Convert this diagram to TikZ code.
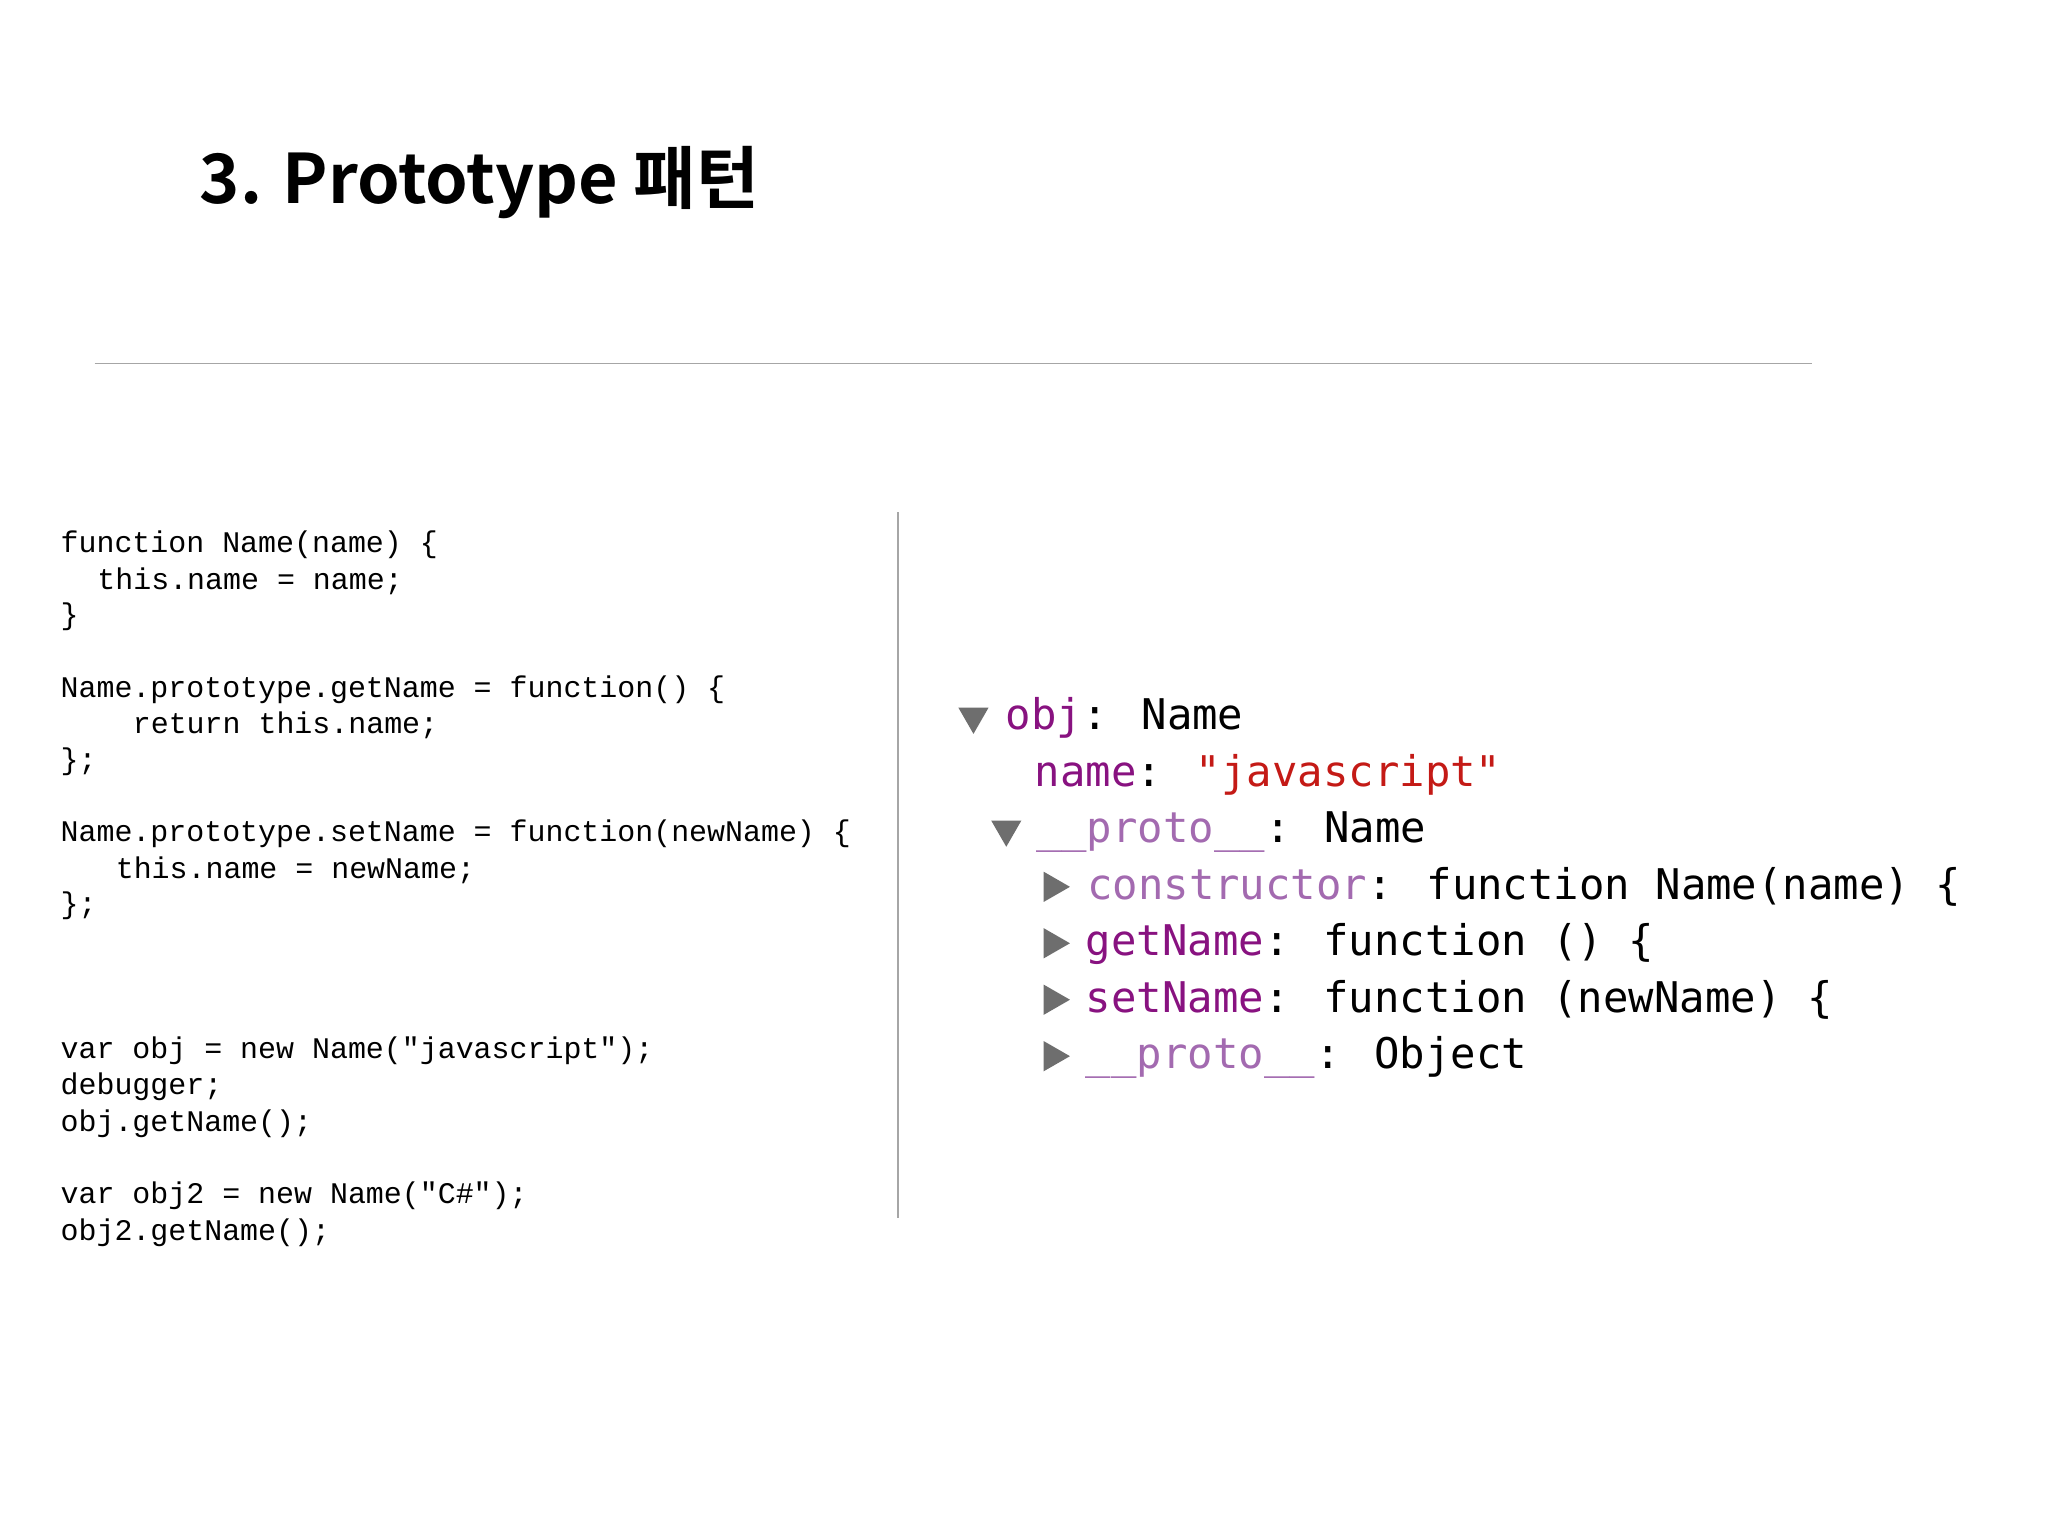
\documentclass[tikz,border=0pt]{standalone}
\usepackage{fontspec}
\newfontfamily\kor{Noto Sans CJK KR Bold}
\newfontfamily\cmono{Liberation Mono}
\newfontfamily\dmono{DejaVu Sans Mono}
\definecolor{pp}{HTML}{881280}
\definecolor{lp}{HTML}{A36AB0}
\definecolor{rd}{HTML}{C41A16}
\definecolor{tri}{HTML}{6E6E6E}
\begin{document}
\begin{tikzpicture}[x=1pt,y=-1pt,
 code/.style={anchor=base west,inner sep=0pt,font=\cmono\fontsize{22.8}{27}\selectfont},
 dev/.style={anchor=base west,inner sep=0pt,font=\dmono\fontsize{32.2}{40}\selectfont},
 dtri/.style={fill=tri},]
\useasboundingbox (0,0) rectangle (1560,1170);
\fill[white] (0,0) rectangle (1560,1170);
\node[anchor=base west,inner sep=0pt,font=\kor\fontsize{52}{60}\selectfont] (title) at (152,155) {3. Prototype 패턴};
\coordinate (h1) at (72,277); \coordinate (h2) at (1380,277);
\draw[gray!70,line width=1.2pt] (h1) -- (h2);
\coordinate (v1) at (684,390); \coordinate (v2) at (684,928);
\draw[gray!70,line width=1.2pt] (v1) -- (v2);
% left code
\node[code] (l1) at (46,421) {function Name(name) \{};
\node[code] (l2) at (74,449) {this.name = name;};
\node[code] (l3) at (46,476) {\}};
\node[code] (l4) at (46,531) {Name.prototype.getName = function() \{};
\node[code] (l5) at (101,559) {return this.name;};
\node[code] (l6) at (46,586) {\};};
\node[code] (l7) at (46,641) {Name.prototype.setName = function(newName) \{};
\node[code] (l8) at (88,669) {this.name = newName;};
\node[code] (l9) at (46,696) {\};};
\node[code] (l10) at (46,806) {var obj = new Name("javascript");};
\node[code] (l11) at (46,834) {debugger;};
\node[code] (l12) at (46,862) {obj.getName();};
\node[code] (l13) at (46,917) {var obj2 = new Name("C\#");};
\node[code] (l14) at (46,945) {obj2.getName();};
% devtools
\fill[dtri] (730,539) -- (753,539) -- (741.5,559) -- cycle;
\node[dev] (d1) at (766,556) {\textcolor{pp}{obj}: Name};
\node[dev] (d2) at (788,599) {\textcolor{pp}{name}: \textcolor{rd}{"javascript"}};
\fill[dtri] (755,625) -- (778,625) -- (766.5,645) -- cycle;
\node[dev] (d3) at (789,642) {\textcolor{lp}{\_\_proto\_\_}: Name};
\fill[dtri] (795,664) -- (815,675.5) -- (795,687) -- cycle;
\node[dev] (d4) at (828,685) {\textcolor{lp}{constructor}: function Name(name) \{};
\fill[dtri] (795,707) -- (815,718.5) -- (795,730) -- cycle;
\node[dev] (d5) at (827,728) {\textcolor{pp}{getName}: function () \{};
\fill[dtri] (795,750) -- (815,761.5) -- (795,773) -- cycle;
\node[dev] (d6) at (827,771) {\textcolor{pp}{setName}: function (newName) \{};
\fill[dtri] (795,793) -- (815,804.5) -- (795,816) -- cycle;
\node[dev] (d7) at (827,814) {\textcolor{lp}{\_\_proto\_\_}: Object};
\end{tikzpicture}
\end{document}
